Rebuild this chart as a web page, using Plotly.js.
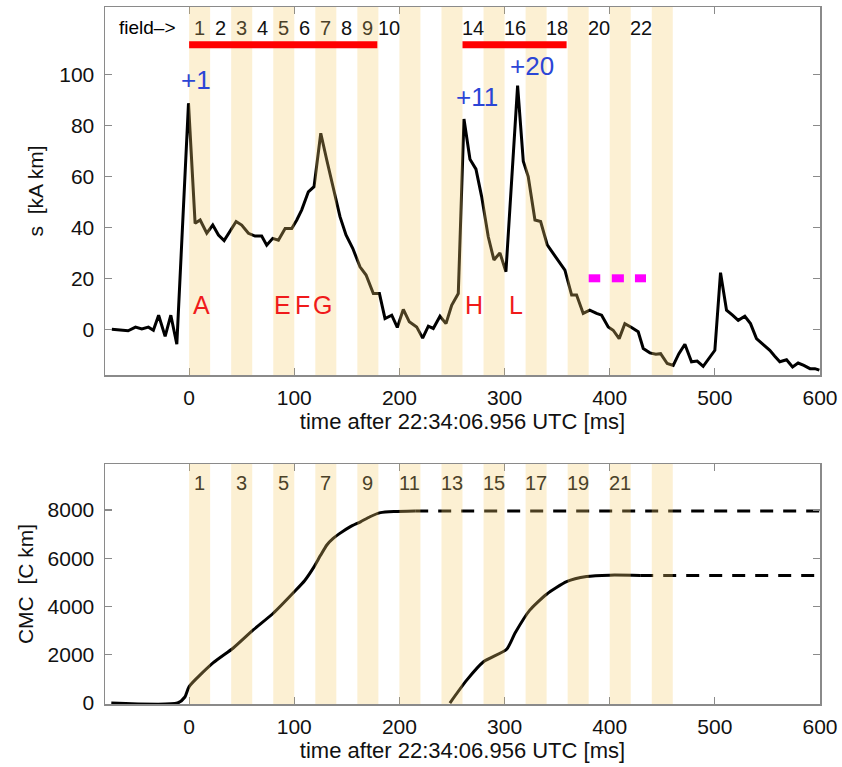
<!DOCTYPE html>
<html>
<head>
<meta charset="utf-8">
<script src="https://cdn.plot.ly/plotly-3.0.1.min.js"></script>
<style>html,body{margin:0;padding:0;background:#fff;}#chart{width:842px;height:767px;}</style>
</head>
<body>
<div id="chart"></div>
<script>
// ---------- data ----------
const topT = [-73.5,-65.6,-58,-51,-45,-38.7,-34,-29,-22.8,-17.4,-11.7,-0.6,5.7,10.5,16.8,22.5,27.9,33.3,39,44.7,50,56.4,62.7,69,73.8,79.5,84.9,91.3,97.6,102.4,107.1,113.4,118.8,125.2,130.9,137.2,143.5,149.2,155.6,162.5,168.3,175.2,181,186.3,192.7,198,203.7,209.4,216.4,222.1,227.5,232.2,238.6,244.3,249.7,256,261.4,267.1,272.8,278.2,284.5,289.9,295.6,301.3,312.4,317.8,322.5,328.9,334.3,340.6,346.3,352,357.4,363.8,368.5,374.8,381,387.5,392.3,398.6,403.3,409,414.4,420.8,427.1,431.9,438.2,443.9,448.4,454.7,460.4,465.8,471.5,477.8,483.2,488.9,495.2,500,505.4,511.1,516.8,522.2,528.5,533.9,539.6,545.9,552.3,557,561.8,568.2,573.9,579.2,584.6,590.5,595.2,599.4];
const topS = [0,-0.4,-0.6,0.8,0.1,0.8,-0.4,5.5,-2.8,5.5,-5.9,88.8,41.6,42.9,37.7,40.9,37,34.8,38.3,42.3,40.9,37.7,36.6,36.6,33,35.7,35,39.6,39.6,42.9,46.9,54,56,77,66.5,54.7,44.2,37,31.8,24.5,21.3,14,14,4.2,5.5,0.7,7.8,2.9,0.9,-3.5,1.2,0.3,5.1,2.2,9.4,14,82.6,66.8,62.9,52.1,36.3,27.2,30,22.6,95.7,66,60,42.9,42.3,33.1,29.8,26.5,23.2,13.4,13.4,6.2,7.5,6.2,5.5,0.9,-0.4,-3.7,2.2,0.7,-1,-7.6,-9.3,-9.8,-9.6,-13.5,-14.2,-9.6,-5.9,-12.8,-12.5,-14.6,-10.9,-8.3,22.2,7.5,5.5,3.5,5.1,2.2,-3.7,-6,-8.3,-10.6,-12.8,-12,-14.8,-13.3,-14.2,-15.5,-15.5,-16.1];

const cmc1T = [-74,-11,-4,0,23,42,61,80,100,110,118,125,131,137,143,153,163,172,182,195,215];
const cmc1V = [0,0,250,680,1670,2280,3030,3720,4610,5080,5590,6120,6550,6820,7020,7300,7510,7720,7890,7940,7960];
const cmc2T = [248,264,280,302,310,324,340,359,378,400,429];
const cmc2V = [0,950,1710,2230,2900,3850,4510,5030,5240,5300,5290];
const cmc1DashT = [215,600];
const cmc1DashV = [7960,7960];
const cmc2DashT = [429,600];
const cmc2DashV = [5290,5290];

// field windows (ms)
const bandStart = [0,40,80,120,160,200,240,280,320,360,400,440];
const bandWidth = 20;
const topFields = [1,2,3,4,5,6,7,8,9,10,14,16,18,20,22];
const bottomFields = [1,3,5,7,9,11,13,15,17,19,21];

// red bars (ms)
const redBarStart = [0,260];
const redBarEnd = [179,359];
const redBarLevel = 111.8;

// magenta dashes
const magStart = [380,402,424];
const magEnd = [391,413.5,434.5];
const magLevel = 20;

// labels
const blueLabels = ['+1','+11','+20'];
const blueX = [6.7,274,326];
const blueY = [98,91.3,103.5];
const redLabels = ['A','E','F','G','H','L'];
const redX = [11.4,89,108,127,271,311];
const redY = 9.4;

// ---------- figure ----------
const FONT = 'Liberation Sans, Arial, Helvetica, sans-serif';
const traces = [
  {x: topT, y: topS, xaxis:'x', yaxis:'y', mode:'lines', line:{color:'#000', width:3}, hoverinfo:'skip'},
  {x: cmc1T, y: cmc1V, xaxis:'x2', yaxis:'y2', mode:'lines', line:{color:'#000', width:3, shape:'spline', smoothing:0.6}},
  {x: cmc2T, y: cmc2V, xaxis:'x2', yaxis:'y2', mode:'lines', line:{color:'#000', width:3, shape:'spline', smoothing:0.6}},
  {x: cmc1DashT, y: cmc1DashV, xaxis:'x2', yaxis:'y2', mode:'lines', line:{color:'#000', width:3, dash:'13px,10px'}},
  {x: cmc2DashT, y: cmc2DashV, xaxis:'x2', yaxis:'y2', mode:'lines', line:{color:'#000', width:3, dash:'13px,10px'}}
];

const shapes = [];
['', '2'].forEach(s => {
  bandStart.forEach(b => {
    shapes.push({type:'rect', xref:'x'+s, yref:'y'+s+' domain', x0:b, x1:b+bandWidth, y0:0, y1:1,
      fillcolor:'rgb(245,205,110)', opacity:0.3, line:{width:0}, layer:'above'});
  });
});
redBarStart.forEach((x0,i) => {
  shapes.push({type:'line', xref:'x', yref:'y', x0:x0, x1:redBarEnd[i], y0:redBarLevel, y1:redBarLevel,
    line:{color:'#ff0000', width:7}, layer:'above'});
});
magStart.forEach((x0,i) => {
  shapes.push({type:'line', xref:'x', yref:'y', x0:x0, x1:magEnd[i], y0:magLevel, y1:magLevel,
    line:{color:'#ff00ff', width:8}, layer:'above'});
});

const annotations = [];
annotations.push({xref:'x', yref:'y', x:-10.5, y:118.5, xanchor:'right', yanchor:'middle', text:'field–>',
  showarrow:false, font:{family:FONT, size:19, color:'#000'}});
topFields.forEach(f => {
  annotations.push({xref:'x', yref:'y', x:(f-1)*20+10, y:118.5, text:String(f), showarrow:false,
    xanchor:'center', yanchor:'middle', font:{family:FONT, size:20, color: f%2 ? '#4a4128' : '#111'}});
});
bottomFields.forEach(f => {
  annotations.push({xref:'x2', yref:'y2', x:(f-1)*20+10, y:9118, text:String(f), showarrow:false,
    xanchor:'center', yanchor:'middle', font:{family:FONT, size:20, color:'#4a4128'}});
});
blueLabels.forEach((t,i) => {
  annotations.push({xref:'x', yref:'y', x:blueX[i], y:blueY[i], text:t, showarrow:false,
    xanchor:'center', yanchor:'middle', font:{family:FONT, size:26, color:'#2b45d6'}});
});
redLabels.forEach((t,i) => {
  annotations.push({xref:'x', yref:'y', x:redX[i], y:redY, text:t, showarrow:false,
    xanchor:'center', yanchor:'middle', font:{family:FONT, size:25, color:'#f01a1a'}});
});

const axCommon = {
  showline:true, linecolor:'#8a8a8a', linewidth:1.5, mirror:'ticks', ticks:'inside', ticklen:7,
  tickcolor:'#8a8a8a', tickwidth:1.2, showgrid:false, zeroline:false,
  tickfont:{family:FONT, size:21, color:'#111'}, fixedrange:true
};
const xTick = {tickmode:'array', tickvals:[0,100,200,300,400,500,600], ticklabelstandoff:3};
const xTitle = {text:'time after 22:34:06.956 UTC [ms]', font:{family:FONT, size:22, color:'#111'}, standoff:3};

const layout = {
  width:842, height:767,
  margin:{l:105, r:22, t:7, b:63},
  paper_bgcolor:'#fff', plot_bgcolor:'#fff',
  showlegend:false,
  xaxis: Object.assign({}, axCommon, xTick, {domain:[0,1], anchor:'y', range:[-80,600], title:xTitle}),
  yaxis: Object.assign({}, axCommon, {domain:[0.472,1], anchor:'x', range:[-18,126.6],
    tickmode:'array', tickvals:[0,20,40,60,80,100], ticklabelstandoff:5,
    title:{text:'s  [kA km]', font:{family:FONT, size:21, color:'#111'}, standoff:10}}),
  xaxis2: Object.assign({}, axCommon, xTick, {domain:[0,1], anchor:'y2', range:[-80,600], title:xTitle}),
  yaxis2: Object.assign({}, axCommon, {domain:[0,0.3443], anchor:'x2', range:[-40,9905],
    tickmode:'array', tickvals:[0,2000,4000,6000,8000], ticklabelstandoff:5,
    title:{text:'CMC  [C km]', font:{family:FONT, size:21, color:'#111'}, standoff:8}}),
  shapes: shapes,
  annotations: annotations
};

Plotly.newPlot('chart', traces, layout, {staticPlot:true, displayModeBar:false});
</script>
</body>
</html>
